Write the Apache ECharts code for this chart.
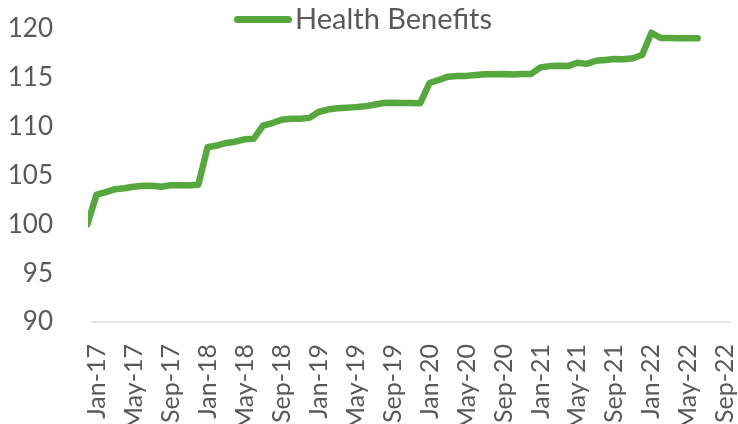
<!DOCTYPE html>
<html><head><meta charset="utf-8">
<script src="https://cdn.jsdelivr.net/npm/echarts@6/dist/echarts.min.js"></script>
<style>html,body{margin:0;padding:0;background:#fff}#c{width:738px;height:424px}</style>
</head><body><div id="c"></div>
<script>
// Months of the series (Dec-16 sits just left of the plot and is clipped, as in the source)
const months = ['Dec-16',
  'Jan-17','Feb-17','Mar-17','Apr-17','May-17','Jun-17','Jul-17','Aug-17','Sep-17','Oct-17','Nov-17','Dec-17',
  'Jan-18','Feb-18','Mar-18','Apr-18','May-18','Jun-18','Jul-18','Aug-18','Sep-18','Oct-18','Nov-18','Dec-18',
  'Jan-19','Feb-19','Mar-19','Apr-19','May-19','Jun-19','Jul-19','Aug-19','Sep-19','Oct-19','Nov-19','Dec-19',
  'Jan-20','Feb-20','Mar-20','Apr-20','May-20','Jun-20','Jul-20','Aug-20','Sep-20','Oct-20','Nov-20','Dec-20',
  'Jan-21','Feb-21','Mar-21','Apr-21','May-21','Jun-21','Jul-21','Aug-21','Sep-21','Oct-21','Nov-21','Dec-21',
  'Jan-22','Feb-22','Mar-22','Apr-22','May-22','Jun-22'];
const healthBenefits = [100.0,
  103.05,103.3,103.6,103.7,103.85,103.95,103.95,103.85,104.0,104.0,104.0,104.05,
  107.9,108.07,108.33,108.46,108.7,108.77,110.1,110.37,110.7,110.8,110.8,110.9,
  111.5,111.75,111.88,111.93,112.0,112.08,112.25,112.42,112.44,112.42,112.42,112.4,
  114.47,114.78,115.12,115.19,115.2,115.29,115.36,115.37,115.4,115.35,115.4,115.4,
  116.07,116.2,116.24,116.2,116.55,116.43,116.75,116.83,116.93,116.9,117.0,117.34,
  119.62,119.08,119.08,119.05,119.05,119.05];
// Axis tick labels (every 4 months from Jan-17)
const tickLabels = ['Jan-17','May-17','Sep-17','Jan-18','May-18','Sep-18','Jan-19','May-19','Sep-19',
  'Jan-20','May-20','Sep-20','Jan-21','May-21','Sep-21','Jan-22','May-22','Sep-22'];
const yTicks = [90,95,100,105,110,115,120];

// month offset relative to Jan-17
const monthIndex = m => months.indexOf(m) - 1;
const tickPos = tickLabels.map(t => {
  const mon = ['Jan','Feb','Mar','Apr','May','Jun','Jul','Aug','Sep','Oct','Nov','Dec'].indexOf(t.slice(0,3));
  const yr = 2000 + parseInt(t.slice(4), 10);
  return (yr - 2017) * 12 + mon;
});
const seriesData = months.map((m, i) => [monthIndex(m), healthBenefits[i]]);

const FONT = 'Lato';
const TXT = '#595959';
const chart = echarts.init(document.getElementById('c'), null, {renderer: 'canvas'});
chart.setOption({
  animation: false,
  backgroundColor: '#fff',
  textStyle: {fontFamily: FONT},
  legend: {
    show: true,
    left: 234, top: 5, padding: 0,
    itemWidth: 58, itemHeight: 7, itemGap: 10,
    icon: 'path://M3.5,0 H54.5 A3.5,3.5 0 0 1 54.5,7 H3.5 A3.5,3.5 0 0 1 3.5,0 Z',
    textStyle: {fontFamily: FONT, fontSize: 29, color: TXT, padding: [0, 0, 0, -2]},
    data: ['Health Benefits']
  },
  grid: {left: 92, right: 8, top: 29, bottom: 102, containLabel: false, outerBoundsMode: 'none'},
  xAxis: {
    type: 'value',
    min: -0.5, max: 68.5,
    splitLine: {show: false},
    axisTick: {show: false},
    axisLine: {show: true, onZero: false, lineStyle: {color: '#d9d9d9', width: 1.5}},
    axisLabel: {
      customValues: tickPos,
      rotate: 90, margin: 22,
      fontFamily: FONT, fontSize: 25, color: TXT,
      formatter: v => tickLabels[tickPos.indexOf(v)] || ''
    }
  },
  yAxis: {
    type: 'value',
    min: yTicks[0], max: yTicks[yTicks.length - 1], interval: 5,
    splitLine: {show: false},
    axisLine: {show: false},
    axisTick: {show: false},
    axisLabel: {margin: 39, fontFamily: FONT, fontSize: 26, color: TXT}
  },
  series: [{
    name: 'Health Benefits',
    type: 'line',
    data: seriesData,
    clip: true,
    showSymbol: false,
    symbol: 'none',
    color: '#56a73d',
    lineStyle: {width: 6.5, color: '#56a73d', cap: 'round', join: 'round'},
    itemStyle: {color: '#56a73d'}
  }]
});
</script></body></html>
